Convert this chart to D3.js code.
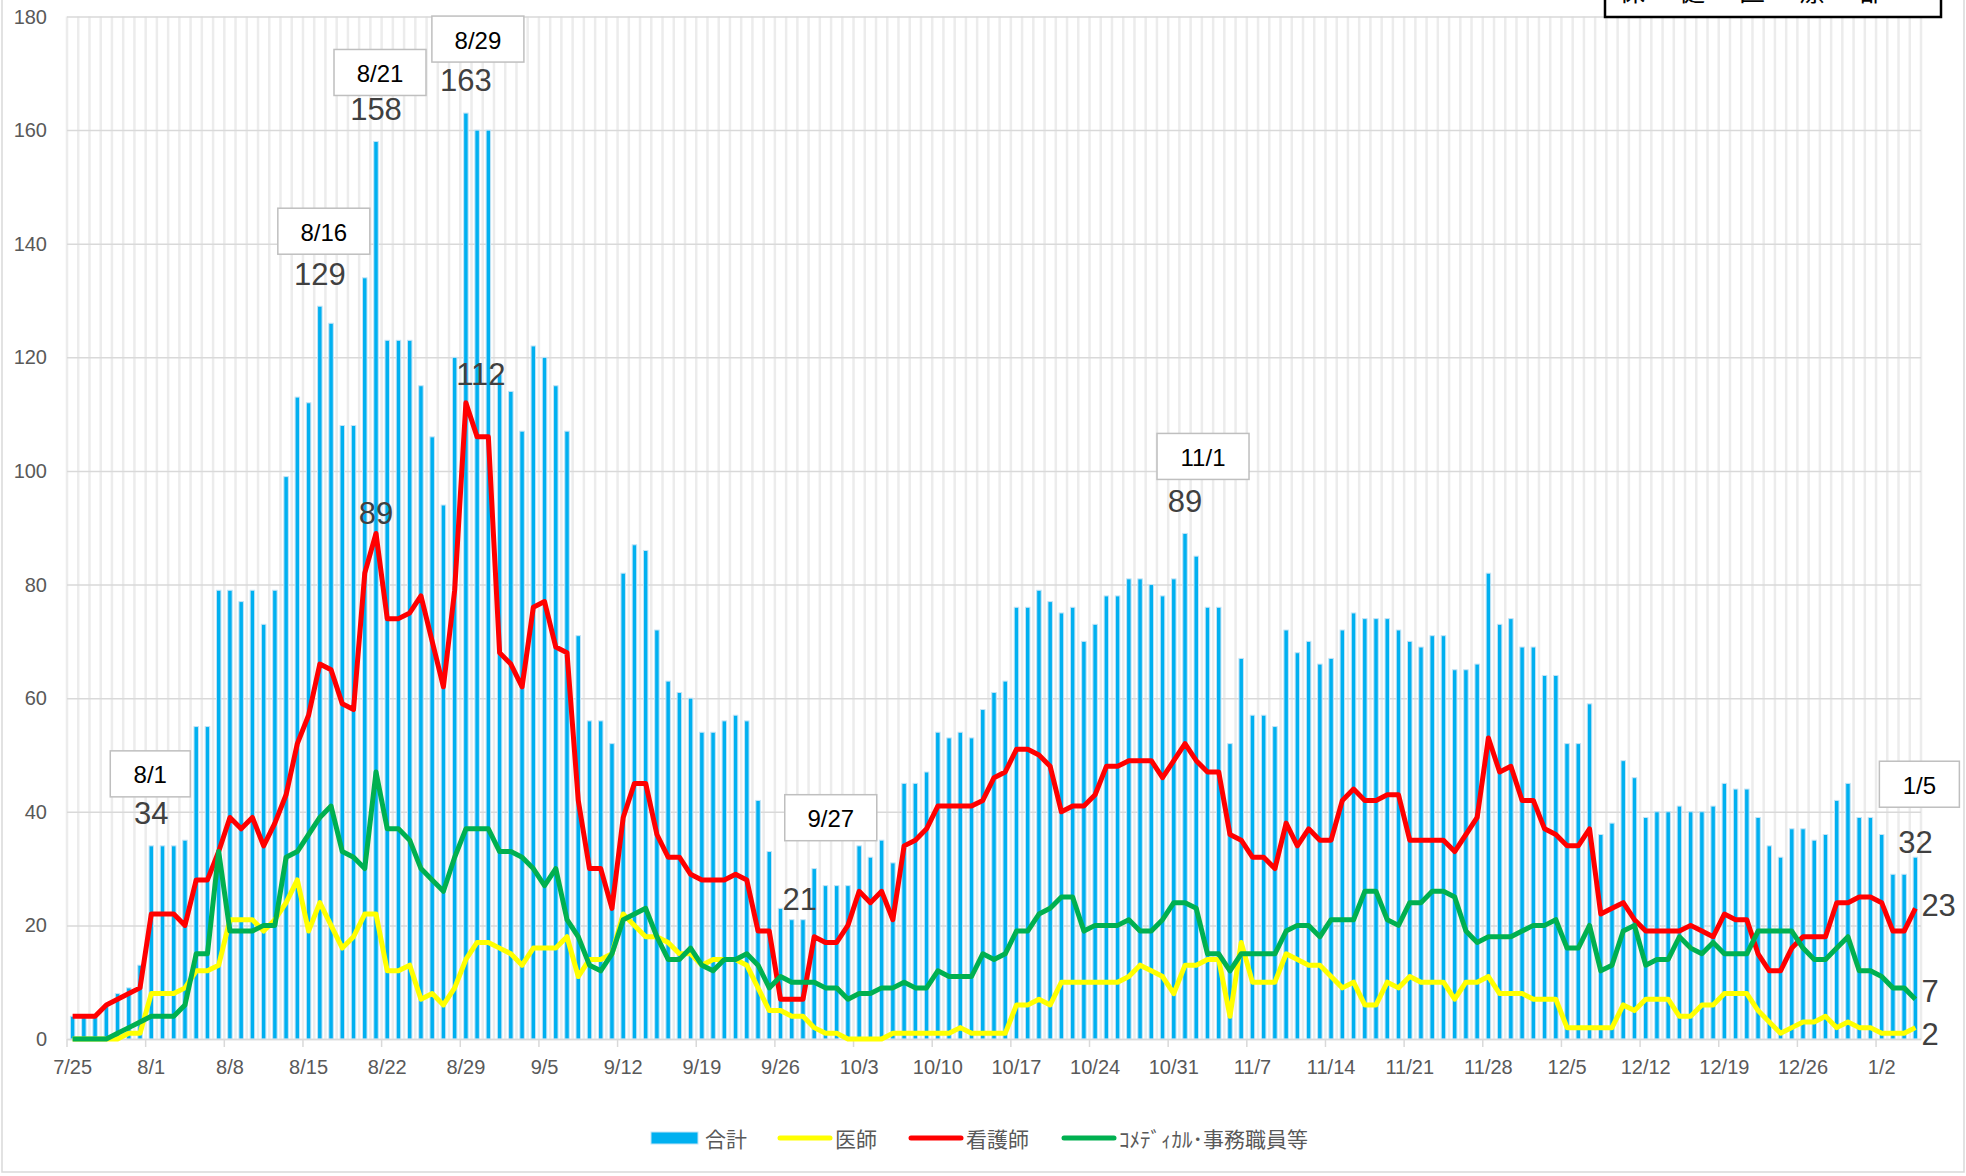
<!DOCTYPE html>
<html>
<head>
<meta charset="utf-8">
<script src="https://d3js.org/d3.v7.min.js"></script>
<style>
    body { margin: 0; background: #fff; }
    text { font-family: "Liberation Sans", Arial, sans-serif; }
    .jp { font-family: "Noto Sans CJK JP", "Noto Sans", sans-serif; }
</style>
</head>
<body>
<svg id="chart" width="1966" height="1176"></svg>
<script>
// daily categories 7/25 .. 1/5
const fmt = d3.timeFormat("%-m/%-d");
const days = d3.timeDay.range(new Date(2021, 6, 25), new Date(2022, 0, 6)).map(fmt);

const tickLabels = ["7/25","8/1","8/8","8/15","8/22","8/29","9/5","9/12","9/19","9/26","10/3","10/10",
    "10/17","10/24","10/31","11/7","11/14","11/21","11/28","12/5","12/12","12/19","12/26","1/2"];
const yTicks = [0, 20, 40, 60, 80, 100, 120, 140, 160, 180];

// 合計
const total = [4,4,4,6,8,9,13,
    34,34,34,35,55,55,
    79,79,77,79,73,79,99,113,112,129,126,108,108,134,158,123,
    123,123,115,106,94,120,163,160,160,
    117,114,107,122,120,115,107,71,56,56,52,82,87,86,72,63,61,60,54,
    54,56,57,56,42,33,23,21,21,30,27,27,27,34,32,35,31,45,45,47,54,53,54,53,58,61,63,76,76,
    79,77,75,76,70,73,78,78,81,81,80,78,81,89,85,76,76,52,67,57,57,55,72,68,70,66,67,72,
    75,74,74,74,72,70,69,71,71,65,65,66,82,73,74,69,69,64,64,52,52,59,36,38,49,46,39,40,40,
    41,40,40,41,45,44,44,39,34,32,37,37,35,36,42,45,39,39,36,29,29,32];

// 医師
const doctors = [0,0,0,0,0,1,1,
    8,8,8,9,12,12,
    13,21,21,21,19,21,24,28,19,24,20,16,18,22,22,12,
    12,13,7,8,6,9,14,17,17,
    16,15,13,16,16,16,18,11,14,14,15,22,20,18,18,17,15,15,13,
    14,14,14,13,9,5,5,4,4,2,1,1,0,0,0,0,1,1,1,1,1,1,2,1,1,1,1,6,6,
    7,6,10,10,10,10,10,10,11,13,12,11,8,13,13,14,14,4,17,10,10,10,15,14,13,13,11,9,
    10,6,6,10,9,11,10,10,10,7,10,10,11,8,8,8,7,7,7,2,2,2,2,2,6,5,7,7,7,
    4,4,6,6,8,8,8,5,3,1,2,3,3,4,2,3,2,2,1,1,1,2];

// 看護師
const nurses = [4,4,4,6,7,8,9,
    22,22,22,20,28,28,
    33,39,37,39,34,38,43,52,57,66,65,59,58,82,89,74,
    74,75,78,70,62,79,112,106,106,
    68,66,62,76,77,69,68,42,30,30,23,39,45,45,36,32,32,29,28,
    28,28,29,28,19,19,7,7,7,18,17,17,20,26,24,26,21,34,35,37,41,41,41,41,42,46,47,51,51,
    50,48,40,41,41,43,48,48,49,49,49,46,49,52,49,47,47,36,35,32,32,30,38,34,37,35,35,42,
    44,42,42,43,43,35,35,35,35,33,36,39,53,47,48,42,42,37,36,34,34,37,22,23,24,21,19,19,19,
    19,20,19,18,22,21,21,15,12,12,16,18,18,18,24,24,25,25,24,19,19,23];

// ｺﾒﾃﾞｨｶﾙ･事務職員等
const comedical = [0,0,0,0,1,2,3,
    4,4,4,6,15,15,
    33,19,19,19,20,20,32,33,36,39,41,33,32,30,47,37,
    37,35,30,28,26,32,37,37,37,
    33,33,32,30,27,30,21,18,13,12,15,21,22,23,18,14,14,16,13,
    12,14,14,15,13,9,11,10,10,10,9,9,7,8,8,9,9,10,9,9,12,11,11,11,15,14,15,19,19,
    22,23,25,25,19,20,20,20,21,19,19,21,24,24,23,15,15,12,15,15,15,15,19,20,20,18,21,21,
    21,26,26,21,20,24,24,26,26,25,19,17,18,18,18,19,20,20,21,16,16,20,12,13,19,20,13,14,14,
    18,16,15,17,15,15,15,19,19,19,19,16,14,14,16,18,12,12,11,9,9,7];

const seriesNames = ["合計", "医師", "看護師", "ｺﾒﾃﾞｨｶﾙ･事務職員等"];
const colors = ["#00b0f0", "#ffff00", "#ff0000", "#00b050"];

// callouts on the bars (date) and labels on the lines
const barCallouts = ["8/1", "8/16", "8/21", "8/29", "9/27", "11/1", "1/5"];
const lineLabels = [{series: 2, day: "8/21"}, {series: 2, day: "8/29"}];

const svg = d3.select("svg#chart");
const width = +svg.attr("width");
const height = +svg.attr("height");
const margin = {top: 16.5, right: 45, bottom: 137, left: 67};
const chartWidth = width - margin.left - margin.right;
const chartHeight = height - margin.top - margin.bottom;

// outer frame
svg.append("rect").attr("x", 2).attr("y", -2).attr("width", 1962).attr("height", 1174)
    .attr("fill", "none").attr("stroke", "#d9d9d9").attr("stroke-width", 1.5);

const chartArea = svg.append("g").attr("transform", `translate(${margin.left},${margin.top})`);

const xScale = d3.scaleBand().domain(days).range([0, chartWidth]).paddingInner(0.6).paddingOuter(0.3);
const yScale = d3.scaleLinear().domain([0, 180]).range([chartHeight, 0]);
const step = xScale.step();
const cx = d => xScale(d) + xScale.bandwidth() / 2;

// vertical gridlines on category boundaries
chartArea.append("g").selectAll("line").data(d3.range(days.length + 1)).join("line")
    .attr("x1", i => i * step).attr("x2", i => i * step)
    .attr("y1", 0).attr("y2", chartHeight)
    .attr("stroke", "#ececec").attr("stroke-width", 2.5);

// horizontal gridlines
let leftGrid = d3.axisLeft(yScale).tickValues(yTicks).tickSize(-chartWidth).tickFormat("");
chartArea.append("g").call(leftGrid)
    .call(g => g.select(".domain").remove())
    .call(g => g.selectAll("line").attr("stroke", "#d9d9d9").attr("stroke-width", 1.5));

// y labels
svg.append("g").selectAll("text").data(yTicks).join("text")
    .attr("x", 47).attr("y", d => margin.top + yScale(d))
    .attr("text-anchor", "end").attr("dominant-baseline", "central")
    .attr("font-size", 20).attr("fill", "#595959")
    .text(d => d);

// bars
chartArea.append("g").selectAll("rect").data(days).join("rect")
    .attr("x", d => xScale(d)).attr("width", xScale.bandwidth())
    .attr("y", (d, i) => yScale(total[i]))
    .attr("height", (d, i) => chartHeight - yScale(total[i]))
    .attr("fill", colors[0]).attr("stroke", "#c4e4f6").attr("stroke-width", 1);

// x axis
let bottomAxis = d3.axisBottom(xScale).tickValues(tickLabels).tickSize(0).tickPadding(21);
chartArea.append("g").attr("transform", `translate(0,${chartHeight})`).call(bottomAxis)
    .call(g => g.select(".domain").attr("stroke", "#d9d9d9").attr("stroke-width", 1.5))
    .call(g => g.selectAll("text").attr("font-size", 20).attr("fill", "#595959")
        .attr("font-family", "Liberation Sans, Arial, sans-serif"));
chartArea.append("g").selectAll("line").data(tickLabels).join("line")
    .attr("x1", d => xScale(d) - (step - xScale.bandwidth()) / 2)
    .attr("x2", d => xScale(d) - (step - xScale.bandwidth()) / 2)
    .attr("y1", chartHeight).attr("y2", chartHeight + 8)
    .attr("stroke", "#d9d9d9").attr("stroke-width", 1.5);

// lines
const lineData = [doctors, nurses, comedical];
const lineGen = d3.line().x((d, i) => cx(days[i])).y(d => yScale(d));
chartArea.append("g").selectAll("path").data(lineData).join("path")
    .attr("d", d => lineGen(d))
    .attr("fill", "none")
    .attr("stroke", (d, i) => colors[i + 1])
    .attr("stroke-width", 5)
    .attr("stroke-linejoin", "round");

// bar callouts: value above bar, date box above value
const calloutOffsets = {
    "8/1": {vx: 0, vy: -32, bx: -1, by: -72},
    "8/16": {vx: 0, vy: -32, bx: 4, by: -75},
    "8/21": {vx: 0, vy: -32, bx: 4, by: -69},
    "8/29": {vx: 0, vy: -33, bx: 12, by: -74},
    "9/27": {vx: 8, vy: -20, bx: 39, by: -102},
    "11/1": {vx: 0, vy: -32, bx: 18, by: -77},
    "1/5": {vx: 0, vy: -15, bx: 4, by: -73}
};
let callouts = chartArea.append("g").selectAll("g").data(barCallouts).join("g")
    .attr("transform", d => `translate(${cx(d)},${yScale(total[days.indexOf(d)])})`);
callouts.append("text")
    .attr("x", d => calloutOffsets[d].vx).attr("y", d => calloutOffsets[d].vy)
    .attr("text-anchor", "middle").attr("dominant-baseline", "central")
    .attr("font-size", 31).attr("fill", "#404040")
    .text(d => total[days.indexOf(d)]);
callouts.append("rect")
    .attr("x", d => calloutOffsets[d].bx - (d.length * 12 + 44) / 2)
    .attr("y", d => calloutOffsets[d].by - 23)
    .attr("width", d => d.length * 12 + 44).attr("height", 46)
    .attr("fill", "#fff").attr("stroke", "#bfbfbf").attr("stroke-width", 1.5);
callouts.append("text")
    .attr("x", d => calloutOffsets[d].bx).attr("y", d => calloutOffsets[d].by + 1)
    .attr("text-anchor", "middle").attr("dominant-baseline", "central")
    .attr("font-size", 24).attr("fill", "#000")
    .text(d => d);

// labels on the red line peaks
const lineLabelOffsets = [{dx: 0, dy: -20}, {dx: 15, dy: -28}];
chartArea.append("g").selectAll("text").data(lineLabels).join("text")
    .attr("x", (d, i) => cx(d.day) + lineLabelOffsets[i].dx)
    .attr("y", (d, i) => yScale(lineData[d.series - 1][days.indexOf(d.day)]) + lineLabelOffsets[i].dy)
    .attr("text-anchor", "middle").attr("dominant-baseline", "central")
    .attr("font-size", 31).attr("fill", "#404040")
    .text(d => lineData[d.series - 1][days.indexOf(d.day)]);

// end labels of the lines
const last = days.length - 1;
const endOffsets = [7, -3, -8];
chartArea.append("g").selectAll("text").data(lineData).join("text")
    .attr("x", cx(days[last]) + 6)
    .attr("y", (d, i) => yScale(d[last]) + endOffsets[i])
    .attr("dominant-baseline", "central")
    .attr("font-size", 31).attr("fill", "#404040")
    .text(d => d[last]);

// legend
const legendX = [651, 780, 911, 1064];
const legendY = 1138;
let legend = svg.append("g").selectAll("g").data(seriesNames).join("g")
    .attr("transform", (d, i) => `translate(${legendX[i]},${legendY})`);
legend.filter((d, i) => i == 0).append("rect")
    .attr("x", 0).attr("y", -6).attr("width", 47).attr("height", 12)
    .attr("fill", colors[0]).attr("stroke", "#c4e4f6");
legend.filter((d, i) => i > 0).append("line")
    .attr("x1", 0).attr("x2", 50).attr("y1", 0).attr("y2", 0)
    .attr("stroke", (d, i) => colors[i + 1]).attr("stroke-width", 5)
    .attr("stroke-linecap", "round");
legend.append("text").attr("class", "jp")
    .attr("x", (d, i) => i == 0 ? 54 : 55).attr("y", 0)
    .attr("dominant-baseline", "central")
    .attr("font-size", 21).attr("fill", "#595959")
    .text(d => d);

// source box at top right (cut by the page edge)
svg.append("rect").attr("x", 1605).attr("y", -10).attr("width", 336).attr("height", 27)
    .attr("fill", "#fff").attr("stroke", "#000").attr("stroke-width", 2.5);
svg.append("g").selectAll("text").data(["保", "健", "医", "療", "部"]).join("text")
    .attr("class", "jp")
    .attr("x", (d, i) => 1632 + i * 60).attr("y", 1)
    .attr("text-anchor", "middle").attr("font-size", 26).attr("fill", "#000")
    .text(d => d);
</script>
</body>
</html>
